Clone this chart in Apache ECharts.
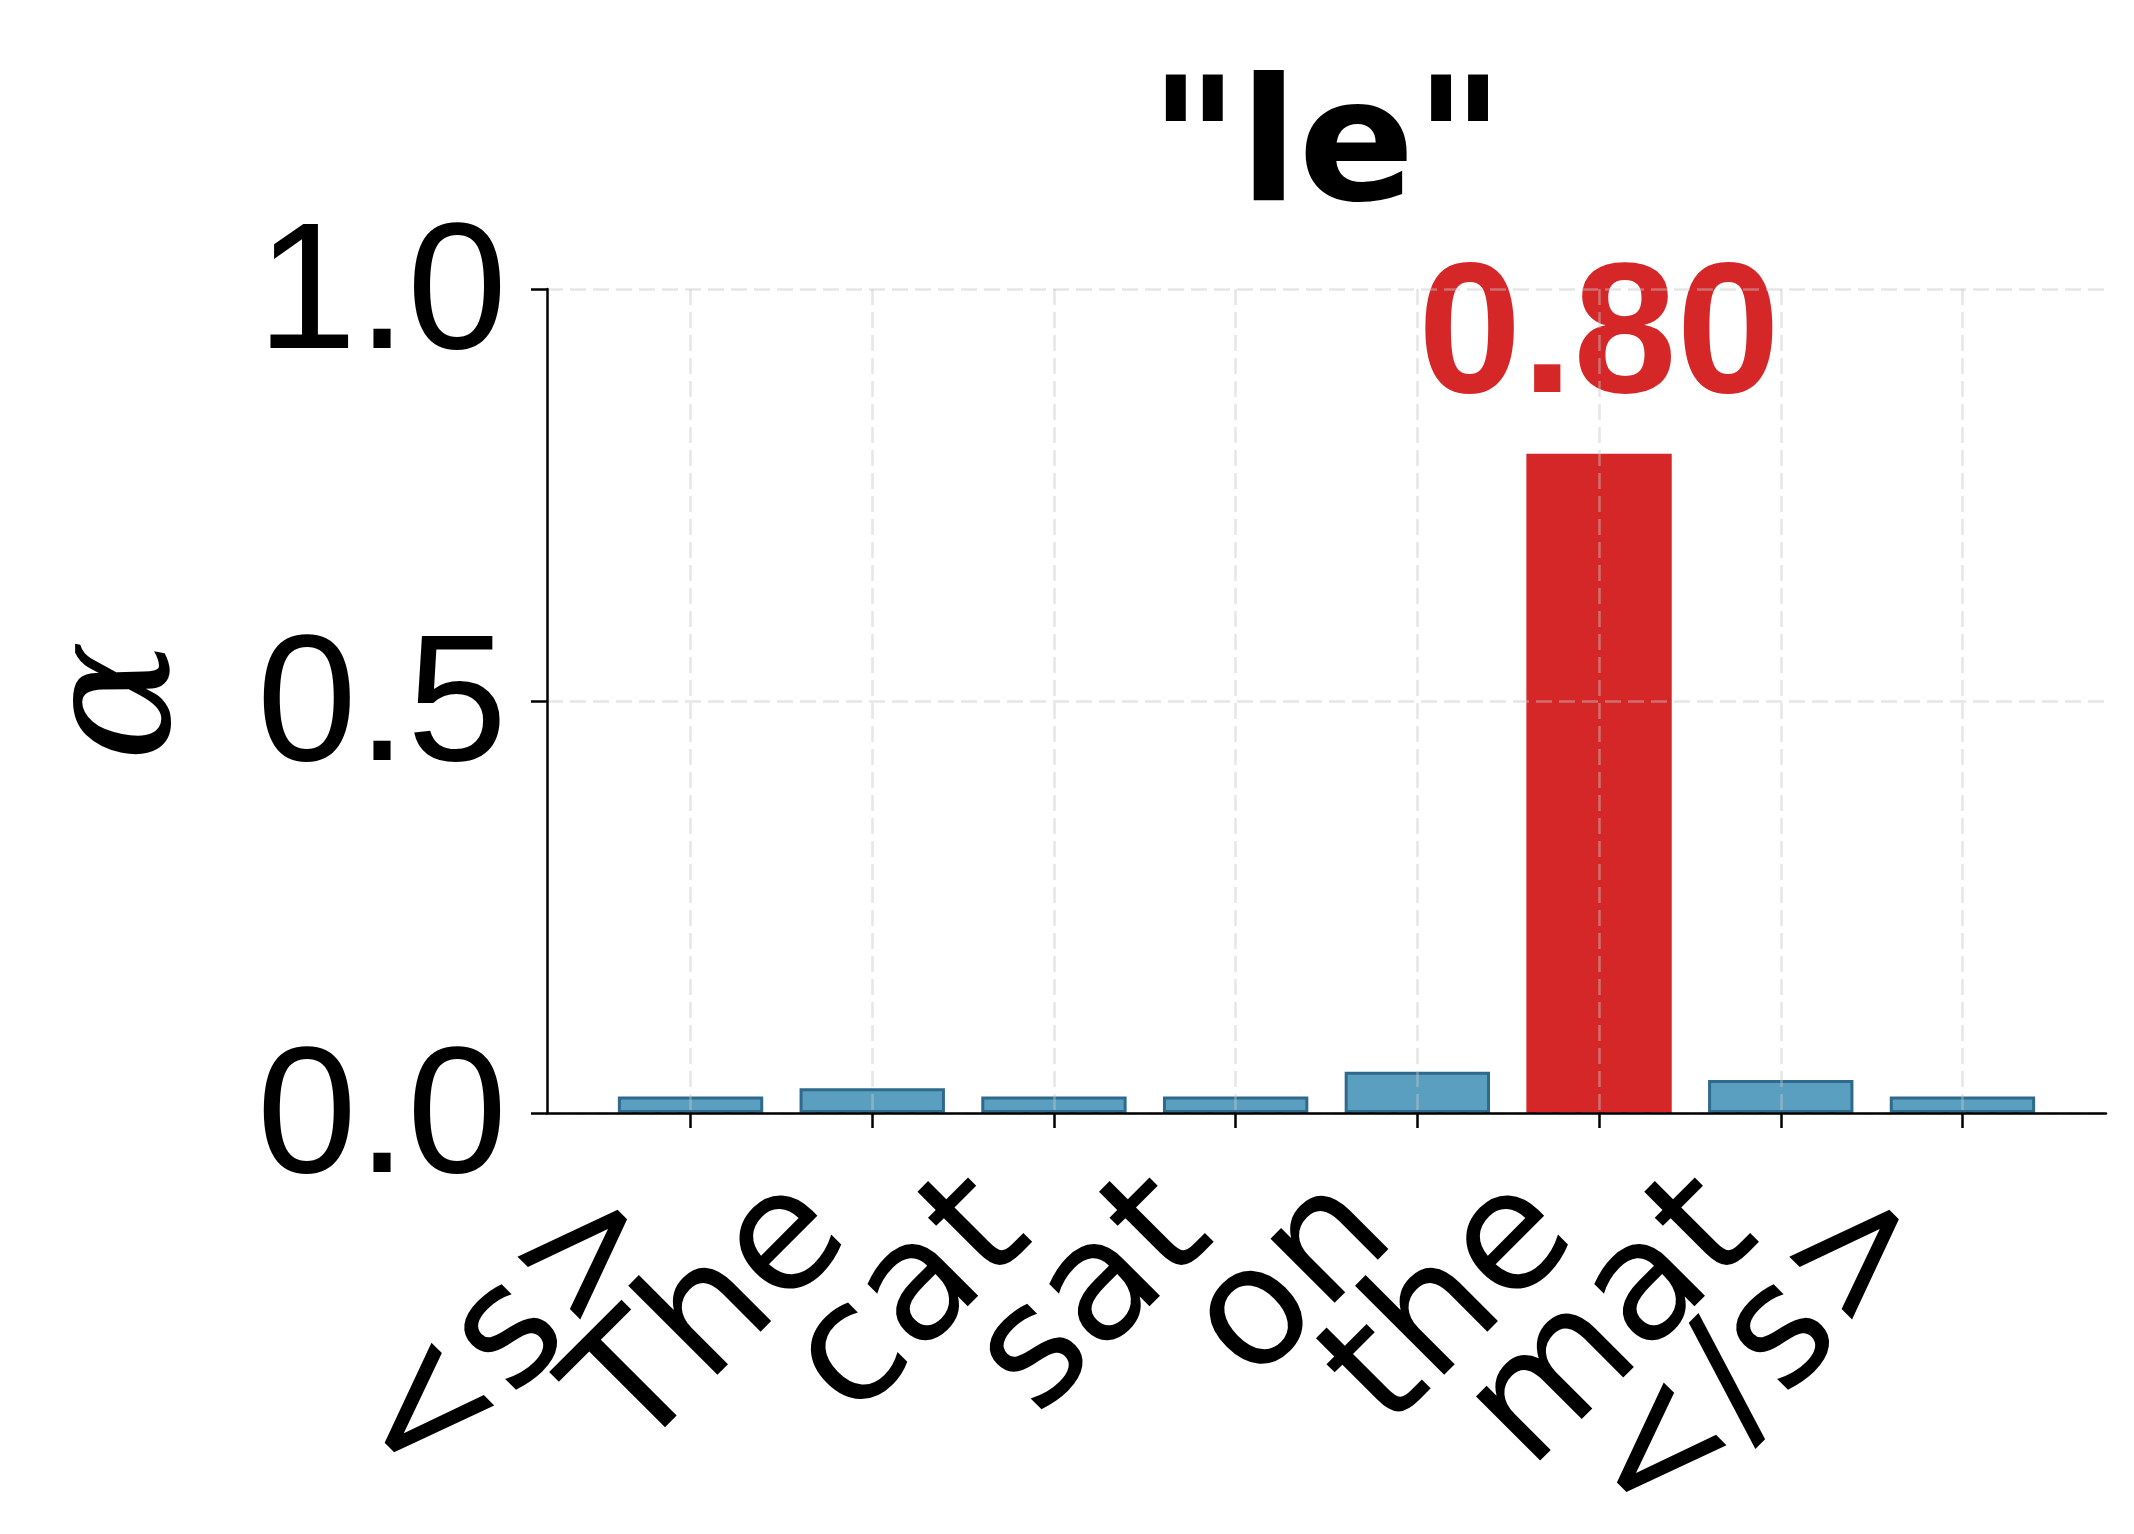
<!DOCTYPE html>
<html lang="en">
<head>
    <meta charset="UTF-8">
    <title>"le"</title>
    <script src="https://cdn.jsdelivr.net/npm/echarts@6/dist/echarts.min.js"></script>
    <style type="text/css">
        html, body { margin: 0; padding: 0; background: #fff; }
        #main { width: 2134px; height: 1534px; }
    </style>
</head>
<body>
<div id="main"></div>
<script type="text/javascript">
    // tokens on the x axis and attention weight for each one
    var tokens = ['<s>', 'The', 'cat', 'sat', 'on', 'the', 'mat', '</s>'];
    var weights = [0.02, 0.03, 0.02, 0.02, 0.05, 0.80, 0.04, 0.02];
    var peakIndex = 5;
    var yTicks = [0, 0.5, 1.0];
    var titleText = '"le"';

    var font = 'Liberation Sans';
    var gridColor = 'rgba(200,200,200,0.45)';
    var chart = echarts.init(document.getElementById('main'));

    var gridLeft = 547, gridRight = 28;
    var xMin = -0.79, xMax = tokens.length - 1 + 0.79;
    var plotW = chart.getWidth() - gridLeft - gridRight;
    var barW = plotW / (xMax - xMin) * 0.8;

    // the rotated labels overlap their neighbours, so even and odd
    // positions go on two stacked x axes (echarts would drop some otherwise)
    var evenIdx = [], oddIdx = [];
    tokens.forEach(function (t, i) { (i % 2 ? oddIdx : evenIdx).push(i); });

    var barData = weights.map(function (w, i) {
        var item = { value: [i, w] };
        if (i === peakIndex) {
            item.itemStyle = { color: '#d62728', borderWidth: 0 };
            item.label = {
                show: true,
                position: 'top',
                distance: 20,
                color: '#d62728',
                fontFamily: font,
                fontWeight: 'bold',
                fontSize: 186,
                formatter: function (p) { return p.value[1].toFixed(2); }
            };
        }
        return item;
    });

    function makeX(idx, showLine) {
        return {
            type: 'value',
            position: 'bottom',
            offset: 0,
            z: 3,
            min: xMin,
            max: xMax,
            axisLine: { show: showLine, onZero: false, lineStyle: { color: '#000', width: 2.5 } },
            axisTick: { show: true, customValues: idx, length: 15, lineStyle: { color: '#000', width: 2.5 } },
            axisLabel: {
                show: true,
                customValues: idx,
                hideOverlap: false,
                rotate: 45,
                margin: 46,
                padding: [0, 70, 0, 0],
                fontFamily: 'DejaVu Sans',
                fontSize: 166,
                color: '#000',
                formatter: function (v) { return tokens[Math.round(v)]; }
            },
            splitLine: { show: true, lineStyle: { color: gridColor, width: 2.5, type: [16, 7] } }
        };
    }

    var option = {
        animation: false,
        backgroundColor: '#fff',
        title: {
            text: titleText,
            left: 1322,
            textAlign: 'center',
            top: 64,
            textStyle: { fontFamily: 'DejaVu Sans', fontWeight: 'bold', fontSize: 172, color: '#000' }
        },
        grid: { left: gridLeft, right: gridRight, top: 289, bottom: 421, containLabel: false, outerBoundsMode: 'none' },
        xAxis: [makeX(evenIdx, true), makeX(oddIdx, false)],
        yAxis: {
            type: 'value',
            z: 3,
            min: 0,
            max: 1.0,
            interval: 0.5,
            name: 'α',
            nameLocation: 'middle',
            nameGap: 335,
            nameRotate: 90,
            nameTextStyle: { fontFamily: 'DejaVu Serif', fontStyle: 'italic', fontSize: 180, color: '#000' },
            axisLine: { show: true, onZero: false, lineStyle: { color: '#000', width: 2.5 } },
            axisTick: { show: true, length: 16, lineStyle: { color: '#000', width: 2.5 } },
            axisLabel: {
                margin: 40,
                color: '#000',
                formatter: function (v) { return '{t|' + v.toFixed(1) + '}'; },
                rich: {
                    t: { fontFamily: font, fontSize: 180, color: '#000', padding: [18, 0, 0, 0] }
                }
            },
            splitLine: { show: true, lineStyle: { color: gridColor, width: 2.5, type: [16, 7] } }
        },
        series: [{
            type: 'bar',
            xAxisIndex: 0,
            data: barData,
            barWidth: barW,
            itemStyle: { color: '#5a9fc0', borderColor: '#2f6a8c', borderWidth: 3 }
        }]
    };
    chart.setOption(option);
</script>
</body>
</html>
